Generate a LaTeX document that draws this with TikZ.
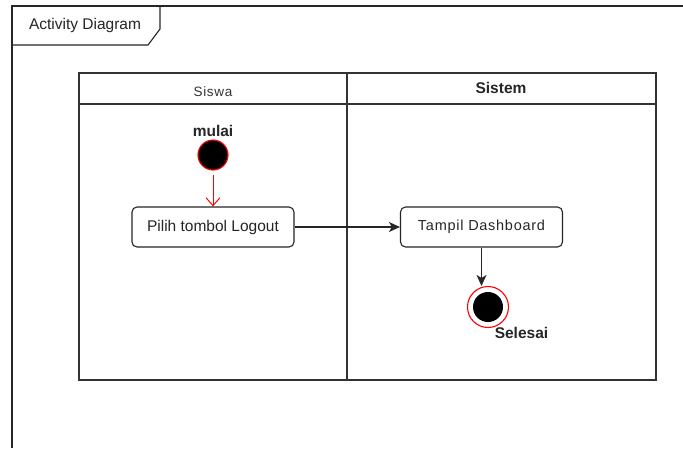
\documentclass[tikz,border=0pt]{standalone}
\usepackage{fontspec}
\setmainfont{Liberation Sans}
\newfontfamily\trackedfont[LetterSpace=5]{Liberation Sans}
\usetikzlibrary{arrows.meta}
\tikzset{
  ink/.style={line width=1.1pt, draw=black!85},
  lane/.style={line width=1.1pt, draw=black!80},
  action/.style={ink, rounded corners=5pt, minimum width=162pt, minimum height=40pt,
    inner sep=0pt, text=black!85, font=\fontsize{15.5}{18}\selectfont},
  startdot/.style={circle, fill=black, draw=red, line width=1.1pt, minimum size=30pt, inner sep=0pt},
  endring/.style={circle, draw=red, line width=1.1pt, fill=white, minimum size=41pt, inner sep=0pt},
  enddot/.style={circle, fill=black, minimum size=30pt, inner sep=0pt},
  flow/.style={ink, -{Stealth[length=11pt,width=10pt,inset=3pt]}},
  redflow/.style={line width=1pt, draw=red, -{Straight Barb[length=8pt,width=14pt]}},
  boldlabel/.style={font=\bfseries\fontsize{15.5}{18}\selectfont, text=black!85, inner sep=0pt},
}
\begin{document}
\begin{tikzpicture}[x=1pt, y=-1pt]
\useasboundingbox (0,0) rectangle (683,448);
\fill[white] (0,0) rectangle (683,448);

% outer frame with name tab
\draw[ink] (12,448) -- (12,6) -- (690,6);
\draw[ink] (12,45) -- (148,45) -- (160,29) -- (160,6);
\node[font=\fontsize{15.5}{18}\selectfont, text=black!85] (title) at (85,25) {Activity Diagram};

% swimlane pool
\draw[lane] (79,73) rectangle (656,380);
\draw[lane] (79,104) -- (656,104);
\draw[lane] (347,73) -- (347,380);
\node[font=\trackedfont\fontsize{13.5}{16}\selectfont, text=black!80] (lane1) at (213,92) {Siswa};
\node[boldlabel] (lane2) at (501,88) {Sistem};

% start
\node[boldlabel] (mulai) at (213,131) {mulai};
\node[startdot] (start) at (213,155) {};

% actions
\node[action] (pilih) at (213,227) {Pilih tombol Logout};
\node[action, font=\trackedfont\fontsize{14.5}{18}\selectfont] (tampil) at (481.5,227) {Tampil Dashboard};

% end
\node[endring] (endc) at (488,307) {};
\node[enddot] at (endc) {};
\node[boldlabel] (selesai) at (521.5,333) {Selesai};

% flows
\draw[redflow, shorten <=4pt] (start.south) -- (pilih.north);
\draw[flow] (pilih.east) -- (tampil.west);
\draw[flow] (tampil.south) -- (tampil.south |- endc.north);
\end{tikzpicture}
\end{document}
